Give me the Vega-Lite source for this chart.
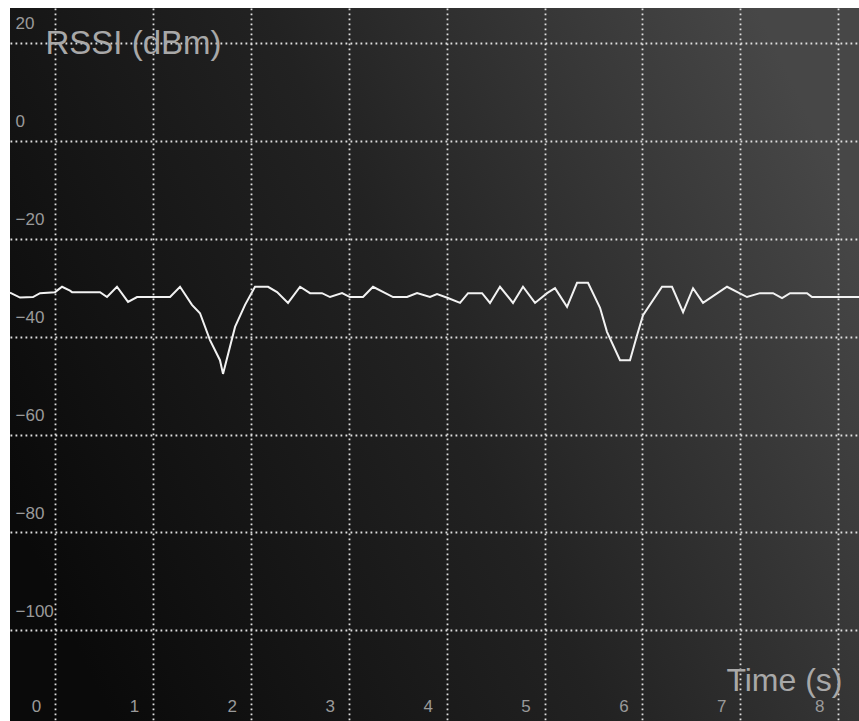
{
  "$schema": "https://vega.github.io/schema/vega-lite/v6.json",
  "width": 849,
  "height": 713,
  "autosize": {"type": "none"},
  "padding": {"left": 10, "top": 8, "right": 0, "bottom": 0},
  "background": "#ffffff",
  "config": {"view": {"stroke": null}},
  "layer": [
    {
      "data": {"values": [{"panel": "bg"}]},
      "mark": {
        "type": "rect",
        "color": {
          "gradient": "linear",
          "x1": 0, "y1": 0.7, "x2": 1, "y2": 0.3,
          "stops": [
            {"offset": 0, "color": "#0a0a0a"},
            {"offset": 0.5, "color": "#222222"},
            {"offset": 1, "color": "#474747"}
          ]
        }
      },
      "encoding": {}
    },
    {
      "data": {
        "values": [
          {"t": -0.46, "v": -31.0}, {"t": -0.357, "v": -32.0}, {"t": -0.225, "v": -31.9},
          {"t": -0.153, "v": -31.1}, {"t": 0.0, "v": -30.9}, {"t": 0.072, "v": -29.8},
          {"t": 0.153, "v": -30.6}, {"t": 0.174, "v": -30.9}, {"t": 0.46, "v": -30.9},
          {"t": 0.531, "v": -31.9}, {"t": 0.633, "v": -29.8}, {"t": 0.746, "v": -32.9},
          {"t": 0.838, "v": -31.9}, {"t": 1.175, "v": -31.9}, {"t": 1.277, "v": -29.8},
          {"t": 1.399, "v": -33.5}, {"t": 1.481, "v": -35.2}, {"t": 1.583, "v": -40.7},
          {"t": 1.685, "v": -44.8}, {"t": 1.716, "v": -47.6}, {"t": 1.839, "v": -38.0},
          {"t": 1.941, "v": -33.5}, {"t": 2.043, "v": -29.8}, {"t": 2.176, "v": -29.8},
          {"t": 2.268, "v": -30.9}, {"t": 2.38, "v": -33.1}, {"t": 2.503, "v": -29.8},
          {"t": 2.605, "v": -31.1}, {"t": 2.727, "v": -31.1}, {"t": 2.809, "v": -31.9},
          {"t": 2.932, "v": -31.1}, {"t": 3.013, "v": -31.9}, {"t": 3.146, "v": -31.9},
          {"t": 3.248, "v": -29.8}, {"t": 3.453, "v": -31.9}, {"t": 3.596, "v": -31.9},
          {"t": 3.698, "v": -31.1}, {"t": 3.83, "v": -31.9}, {"t": 3.902, "v": -31.3},
          {"t": 4.014, "v": -32.1}, {"t": 4.137, "v": -33.1}, {"t": 4.219, "v": -31.1},
          {"t": 4.362, "v": -31.1}, {"t": 4.443, "v": -33.1}, {"t": 4.545, "v": -29.8},
          {"t": 4.678, "v": -33.1}, {"t": 4.78, "v": -29.8}, {"t": 4.903, "v": -33.1},
          {"t": 5.026, "v": -31.1}, {"t": 5.107, "v": -30.1}, {"t": 5.23, "v": -33.9},
          {"t": 5.332, "v": -29.0}, {"t": 5.444, "v": -29.0}, {"t": 5.567, "v": -34.1},
          {"t": 5.638, "v": -39.0}, {"t": 5.771, "v": -44.8}, {"t": 5.873, "v": -44.8},
          {"t": 5.945, "v": -39.7}, {"t": 6.006, "v": -35.6}, {"t": 6.2, "v": -29.8},
          {"t": 6.302, "v": -29.8}, {"t": 6.415, "v": -35.0}, {"t": 6.517, "v": -30.1},
          {"t": 6.619, "v": -33.1}, {"t": 6.864, "v": -29.8}, {"t": 7.068, "v": -31.9},
          {"t": 7.201, "v": -31.1}, {"t": 7.334, "v": -31.1}, {"t": 7.426, "v": -32.1},
          {"t": 7.508, "v": -31.1}, {"t": 7.681, "v": -31.1}, {"t": 7.732, "v": -31.9},
          {"t": 8.212, "v": -31.9}
        ]
      },
      "mark": {"type": "line", "stroke": "#f2f2f2", "strokeWidth": 2, "interpolate": "linear"},
      "encoding": {
        "x": {
          "field": "t", "type": "quantitative",
          "scale": {"domain": [-0.4597, 8.212], "nice": false, "zero": false},
          "axis": {
            "values": [0, 1, 2, 3, 4, 5, 6, 7, 8],
            "zindex": 1,
            "grid": true, "gridColor": "#e0e0e0", "gridDash": [1.8, 3.2], "gridWidth": 1.8, "gridOpacity": 1,
            "domain": false, "ticks": false, "tickSize": 0,
            "offset": -15, "labelPadding": 0, "labelOffset": -19,
            "labelBaseline": "middle", "labelAlign": "center", "labelFlush": false, "labelOverlap": false,
            "labelFont": "Liberation Sans", "labelFontSize": 17, "labelColor": "#9a9a9a",
            "title": "Time (s)", "titleFont": "Liberation Sans", "titleFontSize": 32, "titleFontWeight": "normal",
            "titleColor": "#a8a8a8", "titleAlign": "right", "titleBaseline": "alphabetic",
            "titleX": 832, "titleY": -16, "titleAngle": 0
          }
        },
        "y": {
          "field": "v", "type": "quantitative",
          "scale": {"domain": [-118.51, 27.15], "nice": false, "zero": false},
          "axis": {
            "values": [-100, -80, -60, -40, -20, 0, 20],
            "zindex": 1,
            "grid": true, "gridColor": "#e0e0e0", "gridDash": [1.8, 3.2], "gridWidth": 1.8, "gridOpacity": 1,
            "domain": false, "ticks": false, "tickSize": 0,
            "offset": -5, "labelPadding": 0, "labelOffset": -19,
            "labelBaseline": "middle", "labelAlign": "left", "labelFlush": false, "labelOverlap": false,
            "labelFont": "Liberation Sans", "labelFontSize": 17, "labelColor": "#9a9a9a",
            "title": "RSSI (dBm)", "titleFont": "Liberation Sans", "titleFontSize": 33, "titleFontWeight": "normal",
            "titleColor": "#a8a8a8", "titleAlign": "left", "titleBaseline": "alphabetic",
            "titleX": 30, "titleY": 45, "titleAngle": 0
          }
        }
      }
    }
  ]
}
